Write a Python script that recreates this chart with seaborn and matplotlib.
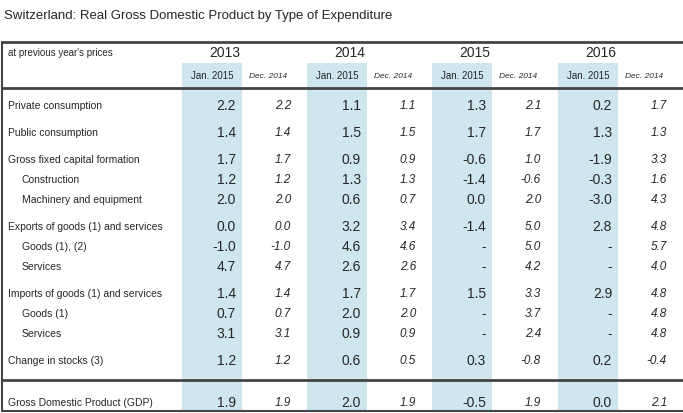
import matplotlib
matplotlib.use('Agg')
import matplotlib.pyplot as plt
import seaborn as sns

sns.set_style('white')
plt.rcParams['font.family'] = ['Liberation Sans Narrow', 'Liberation Sans', 'DejaVu Sans']

TITLE = 'Switzerland: Real Gross Domestic Product by Type of Expenditure'
YEARS = ['2013', '2014', '2015', '2016']
ROWS = ['Private consumption', 'Public consumption', 'Gross fixed capital formation',
        'Construction', 'Machinery and equipment', 'Exports of goods (1) and services',
        'Goods (1), (2)', 'Services', 'Imports of goods (1) and services', 'Goods (1)',
        'Services', 'Change in stocks (3)', 'Gross Domestic Product (GDP)']
INDENT = [0, 0, 0, 1, 1, 0, 1, 1, 0, 1, 1, 0, 0]
JAN = [['2.2', '1.1', '1.3', '0.2'], ['1.4', '1.5', '1.7', '1.3'], ['1.7', '0.9', '-0.6', '-1.9'],
       ['1.2', '1.3', '-1.4', '-0.3'], ['2.0', '0.6', '0.0', '-3.0'], ['0.0', '3.2', '-1.4', '2.8'],
       ['-1.0', '4.6', '-', '-'], ['4.7', '2.6', '-', '-'], ['1.4', '1.7', '1.5', '2.9'],
       ['0.7', '2.0', '-', '-'], ['3.1', '0.9', '-', '-'], ['1.2', '0.6', '0.3', '0.2'],
       ['1.9', '2.0', '-0.5', '0.0']]
DEC = [['2.2', '1.1', '2.1', '1.7'], ['1.4', '1.5', '1.7', '1.3'], ['1.7', '0.9', '1.0', '3.3'],
       ['1.2', '1.3', '-0.6', '1.6'], ['2.0', '0.7', '2.0', '4.3'], ['0.0', '3.4', '5.0', '4.8'],
       ['-1.0', '4.6', '5.0', '5.7'], ['4.7', '2.6', '4.2', '4.0'], ['1.4', '1.7', '3.3', '4.8'],
       ['0.7', '2.0', '3.7', '4.8'], ['3.1', '0.9', '2.4', '4.8'], ['1.2', '0.5', '-0.8', '-0.4'],
       ['1.9', '1.9', '1.9', '2.1']]

row_y = [106, 133, 160, 180, 200, 227, 247, 267, 294, 314, 334, 361, 403]
band_x = [182, 307, 432, 558]
band_w = 60

fig = plt.figure(figsize=(6.83, 4.14), dpi=100)
ax = fig.add_axes([0, 0, 1, 1])
ax.set_xlim(0, 683)
ax.set_ylim(414, 0)
ax.axis('off')

fig.text(4 / 683, 1 - 16 / 414, TITLE, fontsize=9.5, va='center', ha='left')

for bx in band_x:
    ax.add_patch(plt.Rectangle((bx, 64), band_w, 348, color='#cfe6ee', lw=0, zorder=0))

# frame
ax.plot([2, 683], [43, 43], color='#444444', lw=2)
ax.plot([2, 683], [89, 89], color='#444444', lw=2)
ax.plot([2, 683], [381, 381], color='#444444', lw=2)
ax.plot([2, 683], [412, 412], color='#444444', lw=1.5)
ax.plot([2, 2], [43, 412], color='#444444', lw=1.5)

ax.text(8, 53, "at previous year's prices", fontsize=7, va='center')
for i, yr in enumerate(YEARS):
    bx = band_x[i]
    ax.text(bx + 43, 53, yr, fontsize=10, ha='center', va='center')
    ax.text(bx + 30, 76, 'Jan. 2015', fontsize=7, ha='center', va='center')
    ax.text(bx + 86, 77, 'Dec. 2014', fontsize=6, ha='center', va='center', style='italic')

for r, name in enumerate(ROWS):
    y = row_y[r]
    ax.text(8 + 14 * INDENT[r], y, name, fontsize=7.5, va='center')
    for i in range(4):
        bx = band_x[i]
        ax.text(bx + 54, y, JAN[r][i], fontsize=10, ha='right', va='center')
        ax.text(bx + 109, y, DEC[r][i], fontsize=8.5, ha='right', va='center', style='italic')

fig.savefig('out.png', dpi=100)
